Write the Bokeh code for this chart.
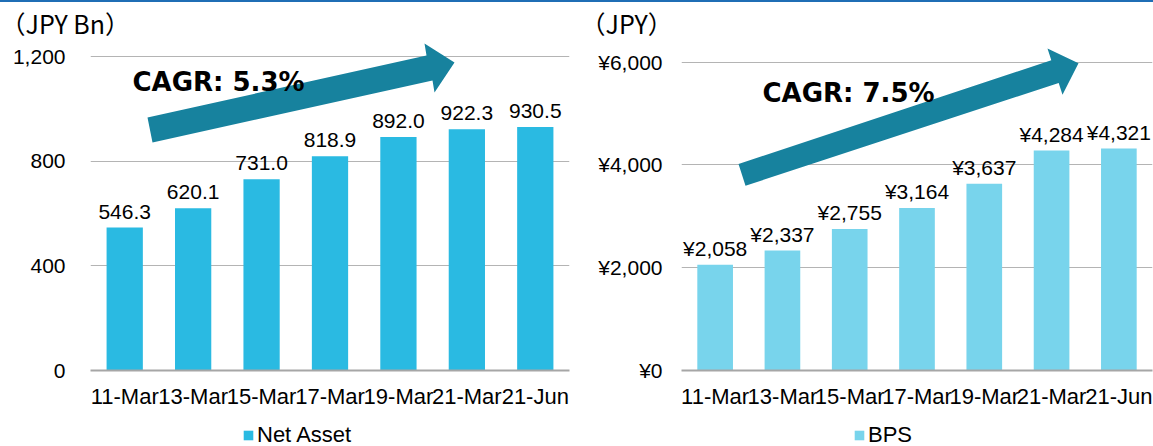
from bokeh.plotting import figure
from bokeh.models import (ColumnDataSource, Range1d, FactorRange, FixedTicker, Label,
                          Legend, LegendItem, Div)
from bokeh.layouts import row, column
from bokeh.embed import file_html
from bokeh.resources import INLINE
from bokeh.core.properties import value

# ---------------- data ----------------
periods = ["11-Mar", "13-Mar", "15-Mar", "17-Mar", "19-Mar", "21-Mar", "21-Jun"]
net_asset = [546.3, 620.1, 731.0, 818.9, 892.0, 922.3, 930.5]
bps = [2058, 2337, 2755, 3164, 3637, 4284, 4321]
net_asset_ticks = [0, 400, 800, 1200]
net_asset_tick_labels = ["0", "400", "800", "1,200"]
bps_ticks = [0, 2000, 4000, 6000]
bps_tick_labels = ["¥0", "¥2,000", "¥4,000", "¥6,000"]
net_asset_unit = "（JPY Bn）"
bps_unit = "（JPY）"
net_asset_cagr = "CAGR: 5.3%"
bps_cagr = "CAGR: 7.5%"
net_asset_name = "Net Asset"
bps_name = "BPS"

# ---------------- styles / geometry ----------------
FONT = "Liberation Sans"
FS = "21px"
XFS = "22px"
GRID = "#B4B4B4"
AXIS = "#A6A6A6"
ARROW = "#17829E"
TOPLINE = "#1F6EB5"
NET_COLOR = "#2ABAE2"
BPS_COLOR = "#78D4EC"
RULE_H = 2      # blue rule
HEAD_H = 38     # unit caption strip
FOOT_H = 32     # legend strip
MAIN_H = 446 - RULE_H - HEAD_H - FOOT_H   # chart strip
MAIN_TOP = RULE_H + HEAD_H     # page y of chart strip top
FOOT_TOP = MAIN_TOP + MAIN_H   # page y of legend strip top


def blank(width, height):
    f = figure(width=width, height=height, x_range=Range1d(0, width),
               y_range=Range1d(0, height), output_backend="svg",
               toolbar_location=None, title=None, x_axis_type=None,
               y_axis_type=None, min_border_left=0, min_border_right=0,
               min_border_top=0, min_border_bottom=0)
    f.outline_line_color = None
    f.xgrid.visible = False
    f.ygrid.visible = False
    return f


def header(width, unit):
    f = blank(width, HEAD_H)
    f.add_layout(Label(x=0, y=HEAD_H - (22 - RULE_H), text=unit,
                       text_font="Noto Sans CJK JP", text_font_size="25px",
                       text_color="#000000", text_align="left",
                       text_baseline="middle"))
    return f


def footer(width, name, color, glyph_left):
    f = blank(width, FOOT_H)
    # zero-height stand-in bar that only lends its colour to the legend swatch
    r = f.vbar(x=[0], top=[0], bottom=[0], width=0, fill_color=color,
               line_color=None)
    h = 25
    center = 435 - FOOT_TOP
    legend = Legend(items=[LegendItem(label=name, renderers=[r])],
                    location=(glyph_left, FOOT_H - center - h / 2),
                    padding=0, margin=0, spacing=0, border_line_color=None,
                    background_fill_alpha=0, glyph_width=12, glyph_height=12,
                    label_standoff=3, label_text_font=FONT,
                    label_text_font_size=XFS, label_text_color="#000000")
    f.add_layout(legend)
    return f


def chart(width, frame_left, frame_right, zero_page, top_page, top_val,
          cats, vals, labels, ticks, tick_labels, color, cagr, cagr_pos,
          arrow_px, y_standoff):
    frame_bottom = zero_page - MAIN_TOP          # in figure pixels
    pxu = (zero_page - top_page) / top_val       # pixels per data unit
    y_end = frame_bottom / pxu
    cat_w = (frame_right - frame_left) / len(cats)

    def fx(px):
        return (px - frame_left) / cat_w

    def fy(py):   # page y -> data
        return (zero_page - py) / pxu

    p = figure(width=width, height=MAIN_H, x_range=FactorRange(*cats),
               y_range=Range1d(0, y_end), output_backend="svg",
               toolbar_location=None, title=None,
               min_border_left=frame_left, min_border_right=width - frame_right,
               min_border_top=0, min_border_bottom=MAIN_H - frame_bottom)
    p.outline_line_color = None

    src = ColumnDataSource(dict(cat=cats, val=vals, lab=labels))
    p.vbar(x="cat", top="val", width=0.53, source=src,
           fill_color=color, line_color=None)
    p.text(x="cat", y="val", text="lab", source=src, text_align="center",
           text_baseline="alphabetic", y_offset=-16,
           text_font=value(FONT), text_font_size=FS, text_color="#000000")

    p.xgrid.grid_line_color = None
    p.ygrid.ticker = FixedTicker(ticks=ticks)
    p.ygrid.grid_line_color = GRID
    p.ygrid.grid_line_width = 1
    p.yaxis.ticker = FixedTicker(ticks=ticks)
    p.yaxis.major_label_overrides = {t: l for t, l in zip(ticks, tick_labels)}
    p.yaxis.axis_line_color = None
    p.yaxis.major_tick_line_color = None
    p.yaxis.minor_tick_line_color = None
    p.yaxis.major_tick_out = 0
    p.yaxis.major_tick_in = 0
    p.yaxis.major_label_standoff = y_standoff
    p.yaxis.major_label_text_font = FONT
    p.yaxis.major_label_text_font_size = FS
    p.yaxis.major_label_text_color = "#000000"

    p.xaxis.axis_line_color = AXIS
    p.xaxis.axis_line_width = 2
    p.xaxis.major_tick_line_color = None
    p.xaxis.minor_tick_line_color = None
    p.xaxis.major_tick_out = 0
    p.xaxis.major_tick_in = 0
    p.xaxis.major_label_standoff = 13
    p.xaxis.major_label_text_font = FONT
    p.xaxis.major_label_text_font_size = XFS
    p.xaxis.major_label_text_color = "#000000"

    ax = [fx(x) for x, _ in arrow_px]
    ay = [fy(y) for _, y in arrow_px]
    p.patch(ax, ay, fill_color=ARROW, line_color=None)

    p.add_layout(Label(x=fx(cagr_pos[0]), y=fy(cagr_pos[1]), text=cagr,
                       text_font="DejaVu Sans", text_font_style="bold",
                       text_font_size="26px", text_color="#000000",
                       text_align="left", text_baseline="alphabetic"))
    return p


left = chart(
    width=580, frame_left=90, frame_right=569, zero_page=370, top_page=56,
    top_val=1200, cats=periods, vals=net_asset,
    labels=[f"{v:.1f}" for v in net_asset],
    ticks=net_asset_ticks, tick_labels=net_asset_tick_labels, color=NET_COLOR,
    cagr=net_asset_cagr, cagr_pos=(132, 81),
    arrow_px=[(152, 142), (147, 117), (426, 55), (424, 43), (454, 62),
              (434, 92), (432, 80)],
    y_standoff=25)

right = chart(
    width=573, frame_left=101, frame_right=572, zero_page=374, top_page=62,
    top_val=6000, cats=periods, vals=bps, labels=[f"¥{v:,}" for v in bps],
    ticks=bps_ticks, tick_labels=bps_tick_labels, color=BPS_COLOR,
    cagr=bps_cagr, cagr_pos=(182, 93),
    arrow_px=[(165, 187), (158, 165), (470.8, 60), (467, 48), (498, 63),
              (482, 95), (478.2, 83)],
    y_standoff=19)

rule = Div(text="", width=1153, height=RULE_H, margin=0,
           styles={"background-color": TOPLINE})

layout = column(
    rule,
    row(header(580, net_asset_unit), header(573, bps_unit), spacing=0),
    row(left, right, spacing=0),
    row(footer(580, net_asset_name, NET_COLOR, 242),
        footer(573, bps_name, BPS_COLOR, 273), spacing=0),
    spacing=0)

open("out.html", "w").write(file_html(layout, INLINE))
